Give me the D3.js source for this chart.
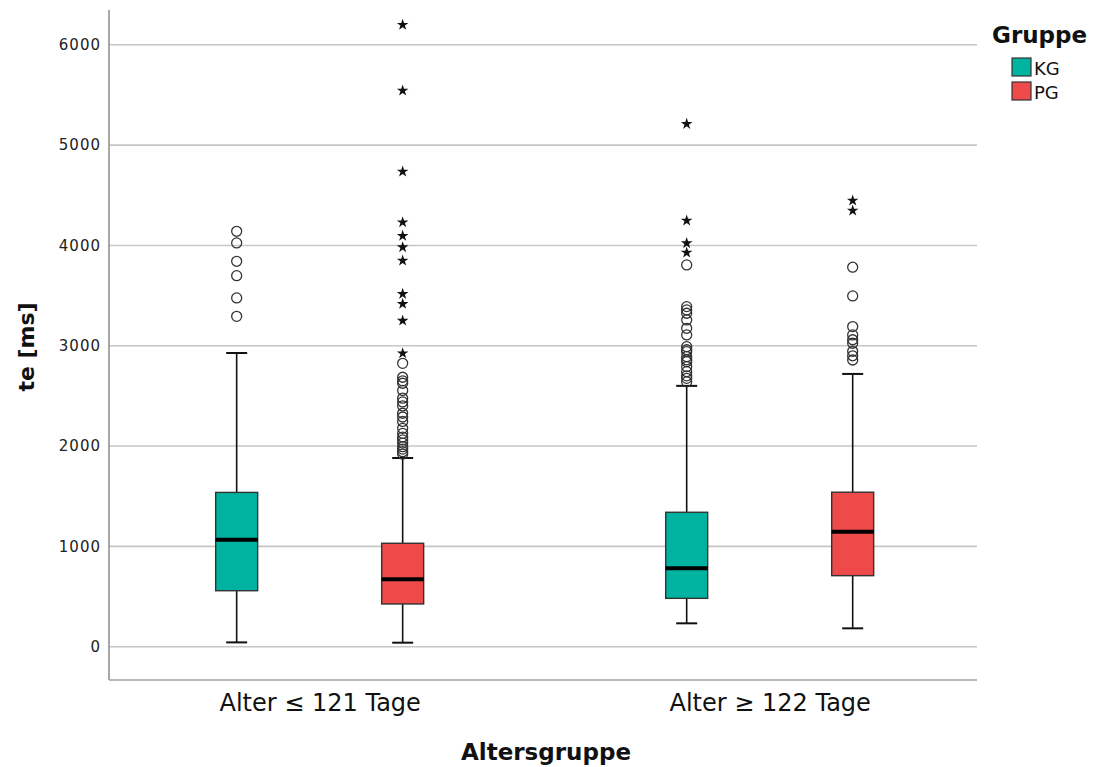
<!DOCTYPE html>
<html>
<head>
<meta charset="utf-8">
<script src="https://cdn.jsdelivr.net/npm/d3@7"></script>
<style>
  body { margin: 0; background: #fff; }
  svg { display: block; font-family: "DejaVu Sans", sans-serif; }
</style>
</head>
<body>
<svg width="1093" height="767"></svg>
<script>
let width = 1093, height = 767;

// data
const groups = ["Alter \u2264 121 Tage", "Alter \u2265 122 Tage"];
const series = ["KG", "PG"];
const colors = ["#00b3a0", "#ee4a4a"];
const yTicks = [0, 1000, 2000, 3000, 4000, 5000, 6000];

// one entry per box: group 1 KG, group 1 PG, group 2 KG, group 2 PG
const boxGroup = [0, 0, 1, 1];
const boxSeries = [0, 1, 0, 1];
const lowValues = [43, 40, 233, 183];
const q1Values = [558, 426, 482, 708];
const medianValues = [1067, 672, 781, 1147];
const q3Values = [1538, 1031, 1340, 1540];
const highValues = [2928, 1881, 2600, 2719];

const outlierValues = [
  [4141, 4025, 3842, 3699, 3477, 3293],
  [2825, 2686, 2650, 2626, 2555, 2477, 2440, 2400, 2327, 2290, 2246, 2177, 2127, 2090, 2061, 2030, 1994, 1970, 1944, 1920],
  [3806, 3390, 3357, 3324, 3257, 3174, 3108, 2991, 2960, 2941, 2891, 2860, 2841, 2792, 2742, 2700, 2675, 2640],
  [3783, 3497, 3191, 3108, 3060, 3025, 2944, 2900, 2858]
];
const extremeValues = [
  [],
  [6199, 5543, 4736, 4231, 4095, 3982, 3849, 3516, 3417, 3250, 2925],
  [5211, 4248, 4022, 3929],
  [4447, 4347]
];

let svg = d3.select("svg")
    .attr("viewBox", "0 0 " + width + " " + height)

let plotLeft = 109, plotRight = 977, plotTop = 10, plotBottom = 680;

let y = d3.scaleLinear().domain([-332, 6347]).range([plotBottom, plotTop]);
let x = d3.scalePoint().domain(groups).range([plotLeft, plotRight]).padding(0.4644).align(0.504);
let xs = d3.scalePoint().domain(series).range([-83, 83]);

let boxW = 42, capW = 21;

// gridlines
svg.append("g")
    .selectAll("line")
    .data(yTicks)
    .enter()
    .append("line")
    .attr("x1", plotLeft).attr("x2", plotRight)
    .attr("y1", d => y(d)).attr("y2", d => y(d))
    .attr("stroke", "#c6c6c6")
    .attr("stroke-width", 1.6)

// y axis
let yAxis = svg.append("g")
    .attr("transform", "translate(" + plotLeft + ",0)")
    .call(d3.axisLeft(y).tickValues(yTicks).tickSize(0).tickPadding(8).tickFormat(d3.format("d")))
yAxis.select(".domain").remove()
yAxis.selectAll("text")
    .style("font-size", "15px")
    .style("letter-spacing", "1px")
    .attr("fill", "#222")
    .attr("font-family", "DejaVu Sans")

// x axis
let xAxis = svg.append("g")
    .attr("transform", "translate(0," + plotBottom + ")")
    .call(d3.axisBottom(x).tickSize(0).tickPadding(14))
xAxis.select(".domain").remove()
xAxis.selectAll("text")
    .style("font-size", "24px")
    .attr("fill", "#111")
    .attr("font-family", "DejaVu Sans")

// axis frame lines
svg.append("line")
    .attr("x1", plotLeft).attr("x2", plotLeft).attr("y1", plotTop).attr("y2", plotBottom)
    .attr("stroke", "#8a8a8a").attr("stroke-width", 1.5)
svg.append("line")
    .attr("x1", plotLeft).attr("x2", plotRight).attr("y1", plotBottom).attr("y2", plotBottom)
    .attr("stroke", "#a0a0a0").attr("stroke-width", 1.5)

// boxes
let boxes = svg.append("g")
    .selectAll("g")
    .data(d3.range(lowValues.length))
    .enter()
    .append("g")
    .attr("transform", i => "translate(" + (x(groups[boxGroup[i]]) + xs(series[boxSeries[i]])) + ",0)")

boxes.append("line")
    .attr("x1", 0).attr("x2", 0)
    .attr("y1", i => y(highValues[i])).attr("y2", i => y(lowValues[i]))
    .attr("stroke", "#111").attr("stroke-width", 1.6)

boxes.selectAll(".cap")
    .data(i => [highValues[i], lowValues[i]])
    .enter()
    .append("line")
    .attr("class", "cap")
    .attr("x1", -capW / 2).attr("x2", capW / 2)
    .attr("y1", d => y(d)).attr("y2", d => y(d))
    .attr("stroke", "#111").attr("stroke-width", 2)

boxes.append("rect")
    .attr("x", -boxW / 2)
    .attr("width", boxW)
    .attr("y", i => y(q3Values[i]))
    .attr("height", i => y(q1Values[i]) - y(q3Values[i]))
    .attr("fill", i => colors[boxSeries[i]])
    .attr("stroke", "#333").attr("stroke-width", 1.4)

boxes.append("line")
    .attr("x1", -boxW / 2).attr("x2", boxW / 2)
    .attr("y1", i => y(medianValues[i])).attr("y2", i => y(medianValues[i]))
    .attr("stroke", "#000").attr("stroke-width", 4)

boxes.selectAll("circle")
    .data(i => outlierValues[i])
    .enter()
    .append("circle")
    .attr("cx", 0)
    .attr("cy", d => y(d))
    .attr("r", 5)
    .attr("fill", "none")
    .attr("stroke", "#333")
    .attr("stroke-width", 1.3)

let star = d3.symbol().type(d3.symbolStar).size(42);
boxes.selectAll(".star")
    .data(i => extremeValues[i])
    .enter()
    .append("path")
    .attr("class", "star")
    .attr("d", star)
    .attr("transform", d => "translate(0," + y(d) + ")")
    .attr("fill", "#111")

// axis titles
svg.append("text")
    .attr("x", 546)
    .attr("y", 760)
    .attr("text-anchor", "middle")
    .style("font-size", "23px")
    .style("font-weight", "bold")
    .attr("fill", "#111")
    .text("Altersgruppe")

svg.append("text")
    .attr("transform", "translate(34,347) rotate(-90)")
    .attr("text-anchor", "middle")
    .style("font-size", "22px")
    .style("font-weight", "bold")
    .attr("fill", "#111")
    .text("te [ms]")

// legend
let legend = svg.append("g").attr("transform", "translate(992,0)")
legend.append("text")
    .attr("x", 0).attr("y", 43)
    .style("font-size", "23px")
    .style("font-weight", "bold")
    .attr("fill", "#111")
    .text("Gruppe")

let items = legend.selectAll(".item")
    .data(series)
    .enter()
    .append("g")
    .attr("class", "item")
    .attr("transform", (d, i) => "translate(20," + (58 + i * 24) + ")")
items.append("rect")
    .attr("width", 19).attr("height", 18)
    .attr("fill", (d, i) => colors[i])
    .attr("stroke", "#333").attr("stroke-width", 1.2)
items.append("text")
    .attr("x", 22).attr("y", 17)
    .style("font-size", "18px")
    .attr("fill", "#111")
    .text(d => d)
</script>
</body>
</html>
